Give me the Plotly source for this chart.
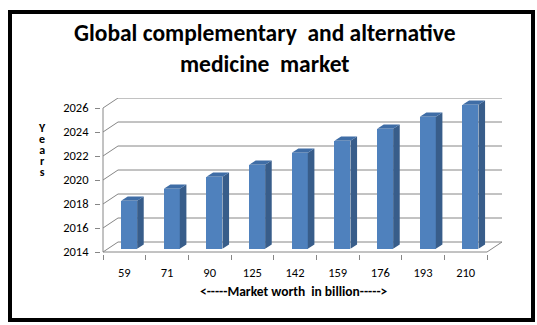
import plotly.graph_objects as go

# ---- data ----
categories = ["59", "71", "90", "125", "142", "159", "176", "193", "210"]
years = [2018, 2019, 2020, 2021, 2022, 2023, 2024, 2025, 2026]
y_ticks = [2014, 2016, 2018, 2020, 2022, 2024, 2026]

title_text = "Global complementary\u00a0 and alternative<br>medicine\u00a0 market"
x_title = "<-----Market worth\u00a0 in billion----->"
y_title_letters = ["Y", "e", "a", "r", "s"]

# ---- geometry / style ----
W, H = 537, 325
PX_CAT = 42.67
PX_YR = 12.0
DEPTH_X = 15 / PX_CAT      # back-wall offset in category units
DEPTH_Y = 10 / PX_YR       # back-wall offset in year units
PAD = 2
Y0, Y1 = y_ticks[0], y_ticks[-1]
n = len(categories)

x_lo = -0.5 - PAD / PX_CAT
x_hi = n - 0.5 + DEPTH_X
y_lo = Y0 - PAD / PX_YR
y_hi = Y1 + DEPTH_Y

L = 101
T = 98
R = W - L - round((x_hi - x_lo) * PX_CAT)
B = H - T - round((y_hi - y_lo) * PX_YR)

D0 = 0.32      # bar front depth fraction
DD = 0.44      # bar depth fraction
BW = 0.375     # bar width (cat units)

FRONT = "#4F81BD"
SIDE = "#385D8A"
TOP = "#3F6DA6"
GRID = "#868686"
AXIS = "#868686"
FONT = "Carlito, Lato, sans-serif"

fig = go.Figure()

# front faces via bar trace
offx = D0 * DEPTH_X
offy = D0 * DEPTH_Y
xs = [i + offx for i in range(n)]
fig.add_trace(go.Bar(
    x=xs, y=[v - Y0 for v in years], base=Y0 + offy, width=BW,
    marker=dict(color=FRONT, line=dict(width=0)), hoverinfo="skip",
))

# side and top faces
sx, sy, tx, ty = [], [], [], []
ddx, ddy = DD * DEPTH_X, DD * DEPTH_Y
for i, v in enumerate(years):
    xl = xs[i] - BW / 2
    xr = xs[i] + BW / 2
    b = Y0 + offy
    top = v + offy
    sx += [xr, xr + ddx, xr + ddx, xr, xr, None]
    sy += [b, b + ddy, top + ddy, top, b, None]
    tx += [xl, xr, xr + ddx, xl + ddx, xl, None]
    ty += [top, top, top + ddy, top + ddy, top, None]
fig.add_trace(go.Scatter(x=sx, y=sy, mode="lines", fill="toself", fillcolor=SIDE,
                         line=dict(width=0, color=SIDE), hoverinfo="skip"))
fig.add_trace(go.Scatter(x=tx, y=ty, mode="lines", fill="toself", fillcolor=TOP,
                         line=dict(width=0, color=TOP), hoverinfo="skip"))

shapes = []
# back-wall gridlines with left-wall diagonals
for g in y_ticks:
    shapes.append(dict(type="line", xref="x", yref="y", x0=-0.5, y0=g,
                       x1=-0.5 + DEPTH_X, y1=g + DEPTH_Y, layer="below",
                       line=dict(color=GRID, width=1)))
    shapes.append(dict(type="line", xref="x", yref="y", x0=-0.5 + DEPTH_X, y0=g + DEPTH_Y,
                       x1=n - 0.5 + DEPTH_X, y1=g + DEPTH_Y, layer="below",
                       line=dict(color=GRID, width=1)))
# floor right diagonal
shapes.append(dict(type="line", xref="x", yref="y", x0=n - 0.5, y0=Y0,
                   x1=n - 0.5 + DEPTH_X, y1=Y0 + DEPTH_Y, layer="below",
                   line=dict(color=GRID, width=1)))
# front axes
shapes.append(dict(type="line", xref="x", yref="y", x0=-0.5, y0=Y0, x1=-0.5, y1=Y1,
                   layer="below", line=dict(color=AXIS, width=1)))
shapes.append(dict(type="line", xref="x", yref="y", x0=-0.5, y0=Y0, x1=n - 0.5, y1=Y0,
                   layer="below", line=dict(color=AXIS, width=1)))


def px2paper_x(px):
    return (px - L) / (W - L - R)


def px2paper_y(py):
    return (H - B - py) / (H - T - B)


# outer border
shapes.append(dict(type="rect", xref="paper", yref="paper",
                   x0=px2paper_x(10), x1=px2paper_x(533),
                   y0=px2paper_y(320), y1=px2paper_y(12),
                   line=dict(color="black", width=4), fillcolor="rgba(0,0,0,0)"))

# stacked vertical "Years" label: tight line spacing via small base font,
# letters enlarged with inline span
years_label = "<br>".join(
    "<span style='font-size:12px'><b>%s</b></span>" % ch for ch in y_title_letters
)

annotations = [
    dict(text="<b>" + title_text + "</b>", x=px2paper_x(265), y=px2paper_y(48),
         xref="paper", yref="paper", showarrow=False, xanchor="center", yanchor="middle",
         font=dict(family=FONT, size=23.5, color="black")),
    dict(text="<b>" + x_title + "</b>", x=px2paper_x(294), y=px2paper_y(291),
         xref="paper", yref="paper", showarrow=False, xanchor="center", yanchor="middle",
         font=dict(family=FONT, size=13.5, color="black")),
    dict(text=years_label, x=px2paper_x(42), y=px2paper_y(150),
         xref="paper", yref="paper", showarrow=False, xanchor="center", yanchor="middle",
         borderpad=0, font=dict(family=FONT, size=8.5, color="black")),
]

fig.update_layout(
    width=W, height=H,
    margin=dict(l=L, r=R, t=T, b=B, pad=0),
    paper_bgcolor="white", plot_bgcolor="white",
    showlegend=False,
    shapes=shapes, annotations=annotations,
    xaxis=dict(range=[x_lo, x_hi], tickmode="array", tickvals=list(range(n)),
               ticktext=categories, ticks="", showgrid=False, zeroline=False,
               showline=False, ticklabelstandoff=9,
               tickfont=dict(family=FONT, size=12.5, color="black"),
               minor=dict(tickmode="array", tickvals=[i - 0.5 for i in range(n + 1)],
                          ticks="outside", ticklen=5, tickcolor=AXIS, showgrid=False),
               fixedrange=True),
    yaxis=dict(range=[y_lo, y_hi], tickmode="array", tickvals=y_ticks,
               ticks="outside", ticklen=5, tickcolor=AXIS, showgrid=False,
               zeroline=False, showline=False, ticklabelstandoff=4,
               tickfont=dict(family=FONT, size=12.5, color="black"), fixedrange=True),
    bargap=0,
)

fig.write_html("out.html")
